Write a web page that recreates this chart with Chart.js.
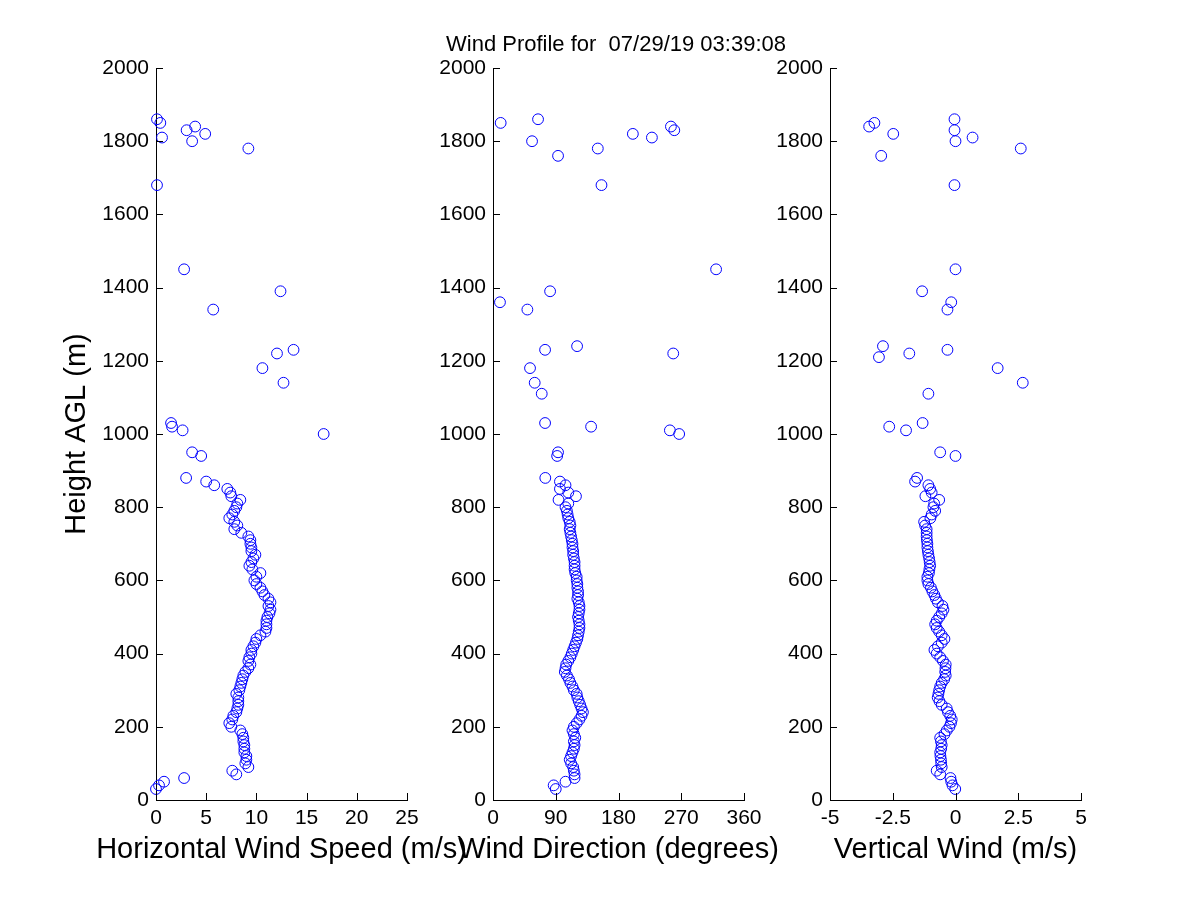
<!DOCTYPE html>
<html>
<head>
<meta charset="utf-8">
<title>Wind Profile</title>
<script src="https://cdn.jsdelivr.net/npm/chart.js@4.4.1/dist/chart.umd.min.js"></script>
<style>
  html, body { margin: 0; padding: 0; background: #fff; }
  #wrap { position: relative; width: 1200px; height: 900px; }
  #wrap canvas { position: absolute; left: 0; top: 0; }
</style>
</head>
<body>
<div id="wrap">
  <canvas id="painelVel" width="1200" height="900"></canvas>
  <canvas id="painelDir" width="1200" height="900"></canvas>
  <canvas id="painelVert" width="1200" height="900"></canvas>
</div>
<script>
// Eixos
const heightTicks = [0, 200, 400, 600, 800, 1000, 1200, 1400, 1600, 1800, 2000];
const speedTicks = [0, 5, 10, 15, 20, 25];
const dirTicks = [0, 90, 180, 270, 360];
const vertTicks = [-5, -2.5, 0, 2.5, 5];

// Alturas da camada densa (m)
const lowHeights = [30, 40, 50, 60, 70, 80, 90, 100, 110, 120,
  130, 140, 150, 160, 170, 180, 190, 200, 210, 220,
  230, 240, 250, 260, 270, 280, 290, 300, 310, 320,
  330, 340, 350, 360, 370, 380, 390, 400, 410, 420,
  430, 440, 450, 460, 470, 480, 490, 500, 510, 520,
  530, 540, 550, 560, 570, 580, 590, 600, 610, 620,
  630, 640, 650, 660, 670, 680, 690, 700, 710, 720,
  730, 740, 750, 760, 770, 780, 790, 800, 810, 820,
  830, 840, 850, 860, 870, 880];

// Velocidade horizontal (m/s)
const speedLow = [0.0, 0.3, 0.8, 2.8, 8.0, 7.6, 9.2, 8.9, 9.0, 9.0,
  8.8, 8.8, 8.8, 8.7, 8.7, 8.6, 8.4, 7.5, 7.3, 7.6,
  7.7, 8.0, 8.1, 8.2, 8.2, 8.2, 8.0, 8.3, 8.4, 8.5,
  8.6, 8.7, 8.9, 9.2, 9.4, 9.2, 9.3, 9.5, 9.5, 9.7,
  9.9, 10.0, 10.4, 10.9, 11.0, 11.0, 11.0, 11.1, 11.3, 11.4,
  11.2, 11.4, 11.2, 10.8, 10.6, 10.4, 10.0, 9.8, 10.0, 10.4,
  9.6, 9.3, 9.5, 9.7, 9.9, 9.5, 9.5, 9.4, 9.4, 9.2,
  8.5, 7.8, 8.1, 7.8, 7.3, 7.6, 7.8, 8.0, 8.1, 8.4,
  7.5, 7.4, 7.1, 5.8, 5.0, 3.0];
const speedUpHeights = [940, 950, 1000, 1010, 1020, 1030, 1140, 1180, 1220, 1230, 1340, 1390, 1450,
  1680, 1780, 1800, 1810, 1820, 1830, 1840, 1850, 1860];
const speedUp = [4.5, 3.6, 16.7, 2.65, 1.6, 1.5, 12.7, 10.6, 12.05, 13.7, 5.7, 12.4, 2.8,
  0.1, 9.2, 3.6, 0.6, 4.9, 3.05, 3.9, 0.43, 0.1];

// Direcao (graus)
const dirLow = [90, 87, 104, 117, 117, 116, 115, 112, 110, 112,
  114, 116, 117, 116, 118, 116, 114, 116, 120, 124,
  127, 129, 127, 125, 123, 121, 120, 116, 114, 111,
  109, 106, 103, 104, 105, 108, 111, 113, 115, 117,
  119, 121, 122, 123, 124, 124, 123, 122, 123, 124,
  124, 123, 121, 122, 122, 121, 121, 120, 120, 118,
  117, 117, 117, 116, 115, 115, 114, 114, 113, 112,
  111, 110, 111, 110, 108, 107, 106, 104, 108, 94,
  119, 108, 96, 104, 96, 75];
const dirUpHeights = [940, 950, 1000, 1010, 1020, 1030, 1110, 1140, 1180, 1220, 1230, 1240, 1340,
  1360, 1390, 1450, 1680, 1760, 1780, 1800, 1810, 1820, 1830, 1840, 1850, 1860];
const dirUp = [92, 93.3, 267, 253.7, 140.7, 74.7, 69.9, 59.8, 53.1, 258.5, 74.7, 120.6, 49.3,
  10, 81.9, 320, 155.6, 93.3, 150.3, 56, 227.9, 200.6, 260, 255.2, 11, 64.6];

// Vento vertical (m/s)
const vertLow = [-0.01, -0.12, -0.17, -0.2, -0.61, -0.75, -0.55, -0.57, -0.58, -0.60,
  -0.61, -0.57, -0.55, -0.58, -0.61, -0.44, -0.35, -0.24, -0.18, -0.15,
  -0.21, -0.30, -0.35, -0.55, -0.64, -0.71, -0.68, -0.65, -0.61, -0.55,
  -0.45, -0.39, -0.41, -0.40, -0.39, -0.50, -0.61, -0.75, -0.84, -0.70,
  -0.55, -0.44, -0.55, -0.65, -0.75, -0.81, -0.75, -0.65, -0.55, -0.48,
  -0.52, -0.70, -0.78, -0.84, -0.92, -0.98, -1.08, -1.12, -1.12, -1.06,
  -1.04, -1.01, -1.03, -1.05, -1.08, -1.10, -1.12, -1.12, -1.14, -1.15,
  -1.15, -1.15, -1.21, -1.25, -1.0, -0.95, -0.81, -0.88, -0.85, -0.65,
  -1.2, -0.95, -1.01, -1.08, -1.61, -1.53];
const vertUpHeights = [940, 950, 1010, 1020, 1030, 1110, 1140, 1180, 1210, 1220, 1230, 1240, 1340,
  1360, 1390, 1450, 1680, 1760, 1780, 1800, 1810, 1820, 1830, 1840, 1850, 1860];
const vertUp = [0, -0.61, -1.97, -2.64, -1.31, -1.08, 2.68, 1.68, -3.05, -1.84, -0.32, -2.89, -0.32,
  -0.17, -1.33, 0, -0.04, -2.96, 2.6, 0, 0.68, -2.48, -0.04, -3.44, -3.23, -0.04];

const FONTE = "'Liberation Sans', Arial, sans-serif";

// Ticks para dentro, titulo do eixo x e titulo geral
const decoracao = {
    id: 'decoracao',
    afterDraw(chart, args, opts) {
        const ctx = chart.ctx;
        const area = chart.chartArea;
        const sx = chart.scales.x;
        const sy = chart.scales.y;
        ctx.save();
        ctx.strokeStyle = '#000';
        ctx.lineWidth = 1;
        ctx.beginPath();
        sx.ticks.forEach(t => {
            const px = Math.round(sx.getPixelForValue(t.value)) + 0.5;
            ctx.moveTo(px, area.bottom);
            ctx.lineTo(px, area.bottom - 7);
        });
        sy.ticks.forEach(t => {
            const py = Math.round(sy.getPixelForValue(t.value)) + 0.5;
            ctx.moveTo(area.left, py);
            ctx.lineTo(area.left + 7, py);
        });
        ctx.stroke();

        ctx.fillStyle = '#000';
        ctx.textAlign = 'center';
        ctx.textBaseline = 'middle';
        ctx.font = '29px ' + FONTE;
        ctx.fillText(opts.tituloX, (area.left + area.right) / 2, 850);
        if (opts.titulo) {
            ctx.font = '22px ' + FONTE;
            ctx.fillText(opts.titulo, 616, 45);
        }
        ctx.restore();
    }
};

function criarPainel(id, xs, ys, xMin, xMax, xTicks, esquerda, direita, tituloX, tituloY, titulo) {
    const pontos = xs.map((v, i) => ({ x: v, y: ys[i] }));
    return new Chart(document.getElementById(id), {
        type: 'scatter',
        data: {
            datasets: [{
                data: pontos,
                pointStyle: 'circle',
                pointRadius: 5.4,
                pointBorderWidth: 1,
                borderColor: '#0000ff',
                backgroundColor: 'rgba(0,0,0,0)',
                clip: false
            }]
        },
        options: {
            responsive: false,
            devicePixelRatio: 1,
            animation: false,
            events: [],
            layout: { padding: { left: esquerda - 96, right: 1200 - direita, top: 68, bottom: 0 } },
            plugins: {
                legend: { display: false },
                tooltip: { enabled: false },
                decoracao: { tituloX: tituloX, titulo: titulo }
            },
            scales: {
                x: {
                    type: 'linear',
                    position: 'bottom',
                    min: xMin,
                    max: xMax,
                    afterBuildTicks: s => { s.ticks = xTicks.map(v => ({ value: v })); },
                    afterFit: s => { s.height = 100; },
                    grid: { drawOnChartArea: false, drawTicks: false },
                    border: { display: true, color: '#000', width: 1 },
                    ticks: {
                        color: '#000',
                        font: { family: FONTE, size: 21 },
                        padding: 6,
                        maxRotation: 0,
                        autoSkip: false,
                        callback: v => String(v)
                    }
                },
                y: {
                    type: 'linear',
                    min: 0,
                    max: 2000,
                    afterBuildTicks: s => { s.ticks = heightTicks.map(v => ({ value: v })); },
                    afterFit: s => { s.width = 96; },
                    grid: { drawOnChartArea: false, drawTicks: false },
                    border: { display: true, color: '#000', width: 1 },
                    ticks: {
                        color: '#000',
                        font: { family: FONTE, size: 21 },
                        padding: 7,
                        autoSkip: false,
                        callback: v => String(v)
                    },
                    title: {
                        display: !!tituloY,
                        text: tituloY || '',
                        color: '#000',
                        font: { family: FONTE, size: 29 },
                        padding: 0
                    }
                }
            }
        },
        plugins: [decoracao]
    });
}

criarPainel('painelVel', speedLow.concat(speedUp), lowHeights.concat(speedUpHeights),
    0, 25, speedTicks, 156, 407, 'Horizontal Wind Speed (m/s)', 'Height AGL (m)', null);
criarPainel('painelDir', dirLow.concat(dirUp), lowHeights.concat(dirUpHeights),
    0, 360, dirTicks, 493, 744, 'Wind Direction (degrees)', null, 'Wind Profile for  07/29/19 03:39:08');
criarPainel('painelVert', vertLow.concat(vertUp), lowHeights.concat(vertUpHeights),
    -5, 5, vertTicks, 830, 1081, 'Vertical Wind (m/s)', null, null);
</script>
</body>
</html>
